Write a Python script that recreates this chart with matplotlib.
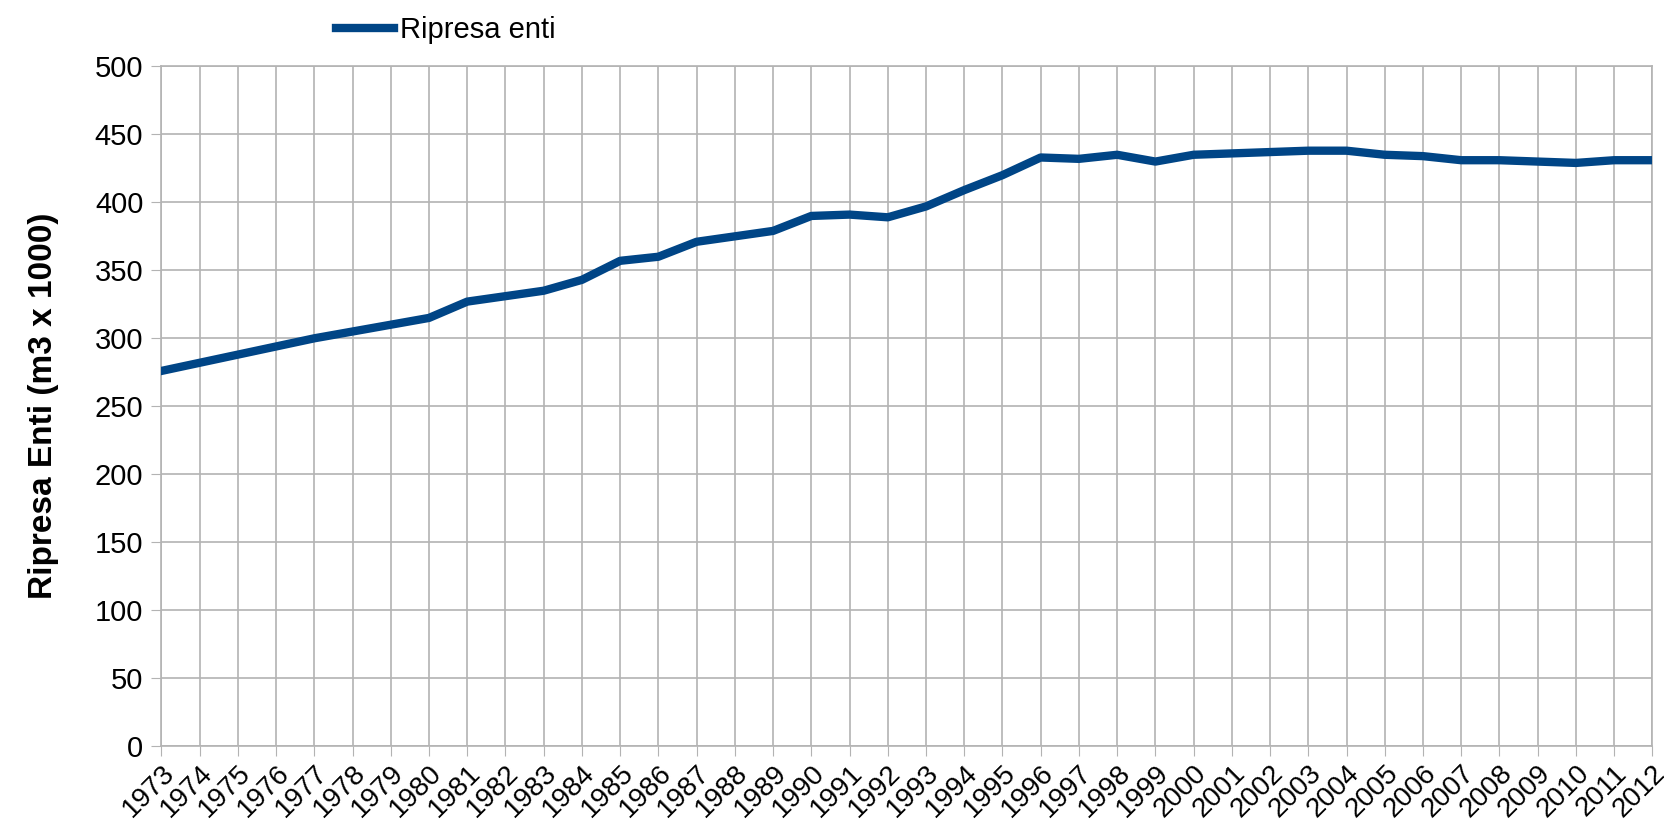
import matplotlib.pyplot as plt

plt.rcParams['font.family'] = ['Liberation Sans', 'DejaVu Sans']

years = list(range(1973, 2013))
ripresa = [276, 282, 288, 294, 300, 305, 310, 315, 327, 331,
           335, 343, 357, 360, 371, 375, 379, 390, 391, 389,
           397, 409, 420, 433, 432, 435, 430, 435, 436, 437,
           438, 438, 435, 434, 431, 431, 430, 429, 431, 431]
yticks = list(range(0, 501, 50))

BLUE = "#004586"
GRID = "#b3b3b3"

fig = plt.figure(figsize=(16.64, 8.30), dpi=100)
ax = fig.add_axes([0.097, 0.101, 0.896, 0.819])

ax.plot(years, ripresa, color=BLUE, linewidth=6, label="Ripresa enti",
        solid_joinstyle="round", zorder=3)

ax.set_xlim(years[0], years[-1])
ax.set_ylim(0, 500)
ax.set_xticks(years)
ax.set_xticklabels([str(y) for y in years], rotation=45, ha="right",
                   rotation_mode="anchor", fontsize=20)
ax.set_yticks(yticks)
ax.set_yticklabels([str(v) for v in yticks], fontsize=21)
ax.tick_params(axis="both", length=7, color=GRID, pad=6)
ax.tick_params(axis="x", pad=3)

ax.grid(True, color=GRID, linewidth=1.2)
for s in ax.spines.values():
    s.set_color(GRID)
    s.set_linewidth(1.2)

ax.set_ylabel("Ripresa Enti (m3 x 1000)", fontsize=24, fontweight="bold",
              labelpad=26)

fig.legend(loc="upper left", bbox_to_anchor=(0.186, 1.012), frameon=False,
           fontsize=21, handlelength=2.0, handletextpad=0.2)

fig.savefig("out.png", dpi=100)
